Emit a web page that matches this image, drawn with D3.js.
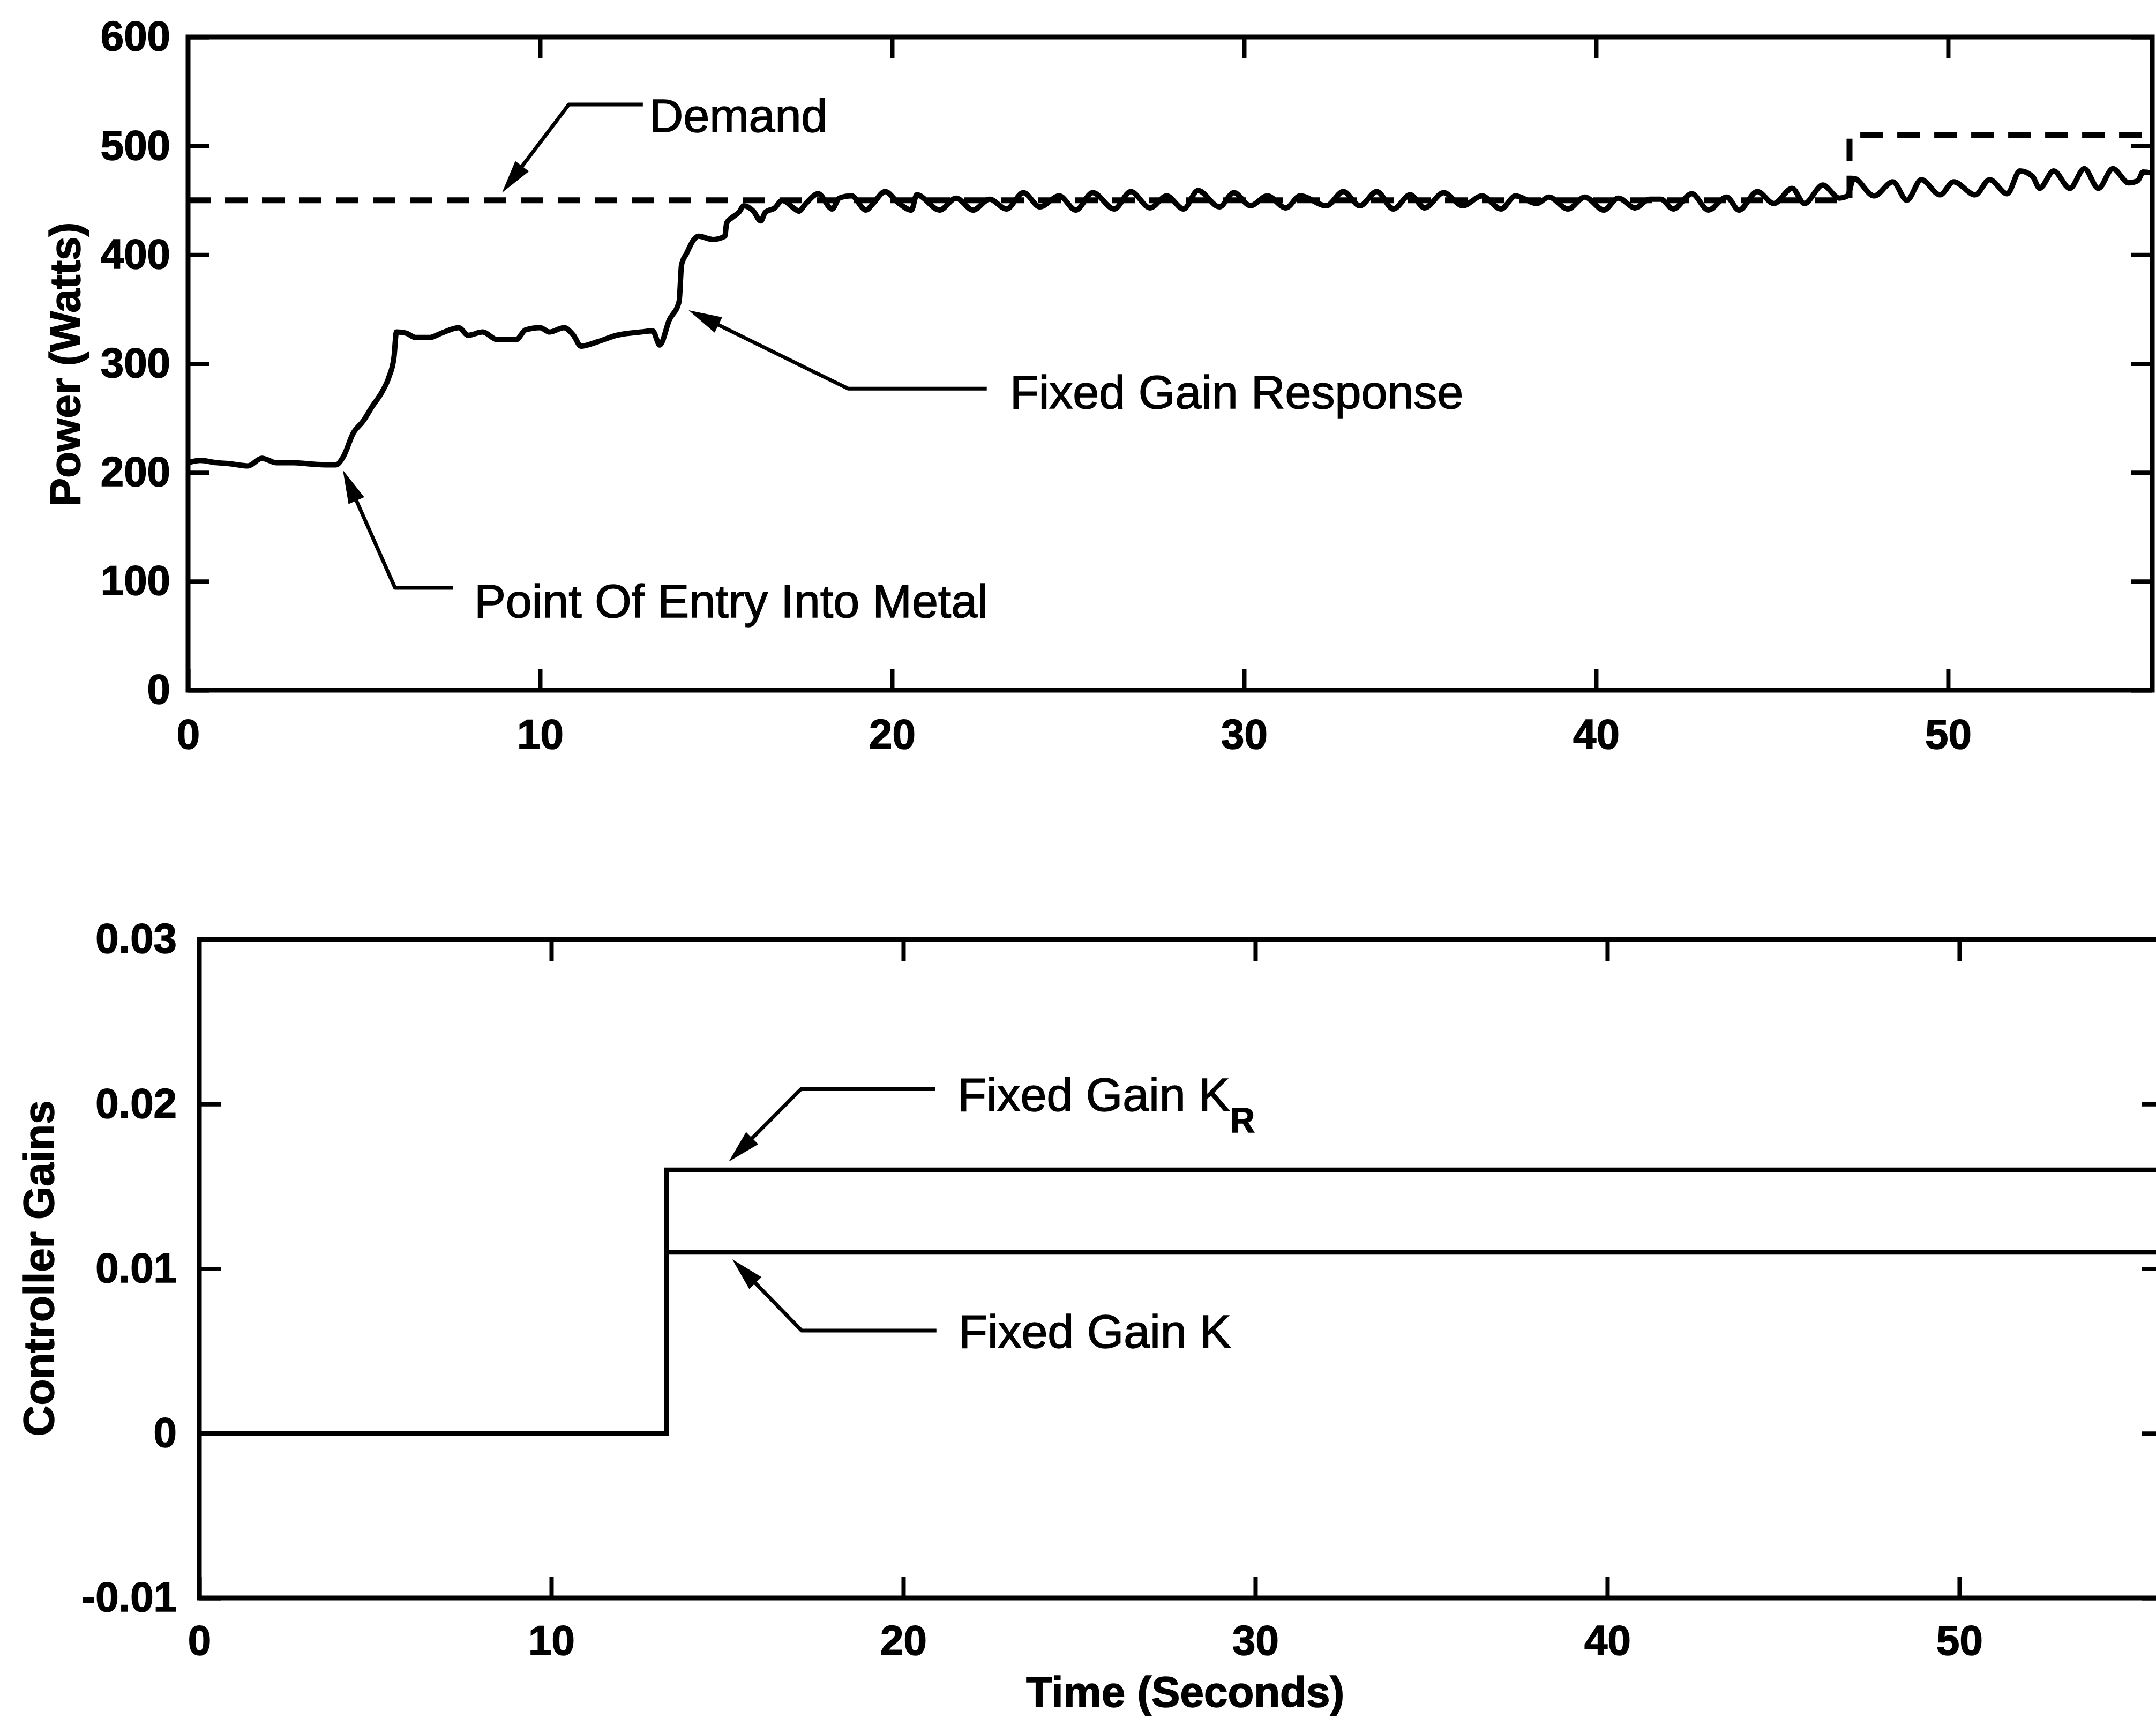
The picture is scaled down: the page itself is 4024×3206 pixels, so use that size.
<!DOCTYPE html>
<html>
<head>
<meta charset="utf-8">
<script src="https://cdn.jsdelivr.net/npm/d3@7"></script>
<style>
html, body { margin: 0; padding: 0; background: #fff; }
svg { display: block; background: #fff; }
text { font-family: "Liberation Sans", Arial, sans-serif; fill: #000; }
</style>
</head>
<body>
<svg id="chart" width="4024" height="3206"></svg>
<script>
// fixed gain response (Watts)
var responseTime = [0, 0.35, 0.8, 1.2, 1.7, 2.1, 2.5, 3.0, 3.4, 4.0, 4.2, 4.42, 4.69, 4.97, 5.24, 5.51, 5.71, 5.85, 5.92,
    6.19, 6.46, 6.87, 7.2, 7.69, 7.96, 8.37, 8.78, 9.32, 9.59, 10.0, 10.27, 10.68, 10.95, 11.16, 11.63, 12.18, 12.86, 13.2,
    13.4, 13.67, 13.95, 14.02, 14.16, 14.37, 14.5, 14.9, 15.25, 15.3, 15.45, 15.65, 15.79, 16.06, 16.27, 16.4, 16.67,
    16.88, 17.2, 17.35, 17.55, 17.9, 18.3, 18.5, 18.85, 19.26, 19.46, 19.8, 20.2, 20.55, 20.7, 21.35, 21.82, 22.3, 22.77,
    23.25, 23.73, 24.2, 24.75, 25.22, 25.7, 26.31, 26.78, 27.33, 27.8, 28.28, 28.69, 29.3, 29.71, 30.18, 30.66, 31.19,
    31.59, 32.34, 32.82, 33.29, 33.77, 34.24, 34.72, 35.13, 35.67, 36.21, 36.76, 37.3, 37.71, 38.32, 38.66, 39.2, 39.68,
    40.22, 40.63, 41.11, 41.52, 41.84, 42.19, 42.72, 43.19, 43.71, 44.06, 44.58, 45.05, 45.57, 45.92, 46.44, 46.91,
    47.14, 47.32, 47.9, 48.43, 48.83, 49.24, 49.77, 50.16, 50.77, 51.18, 51.68, 52.04, 52.4, 52.6, 53.0, 53.46, 53.87,
    54.27, 54.68, 55.13, 55.39, 55.54, 55.8]
var responsePower = [209, 211, 209, 208, 206, 213, 209, 209, 208, 207, 207, 215, 236, 247, 261, 274, 288, 306, 329,
    328, 324, 324, 328, 333, 326, 329, 322, 322, 331, 333, 329, 333, 326, 316, 320, 326, 329, 330,
    317, 340, 357, 391, 401, 414, 417, 414, 417, 429, 434, 439, 445, 440, 431, 439, 443,
    450, 443, 440, 447, 456, 442, 452, 454, 441, 447, 458, 447, 441, 455, 441, 452, 441, 451,
    442, 457, 444, 454, 441, 457, 442, 458, 443, 454, 442, 459, 444, 457, 445, 454, 443,
    454, 445, 458, 445, 458, 442, 455, 443, 457, 445, 454, 442, 454, 447, 453, 442, 453,
    441, 452, 443, 451, 451, 442, 456, 441, 453, 441, 458, 447, 461, 447, 464, 452,
    454, 470, 454, 467, 450, 469, 455, 467, 455, 469, 456, 477, 472, 461, 477, 461, 479,
    461, 479, 466, 468, 476, 475]

// demand (dashed), step at 47.2 s
var demandTime = [0, 47.2, 55.8]
var demandPower = [450, 510, 510]

// controller gains, step at 13.27 s
var gainTime = [0, 13.27, 55.8]
var gainKR = [0, 0.016, 0.016]
var gainK = [0, 0.011, 0.011]

var timeTicks = [0, 10, 20, 30, 40, 50]
var powerTicks = [0, 100, 200, 300, 400, 500, 600]
var gainTicks = [-0.01, 0, 0.01, 0.02, 0.03]
var gainTickLabels = ["-0.01", "0", "0.01", "0.02", "0.03"]

// annotation anchors in data units: arrow tip, elbow, end of leader, text start
var powerNotes = [
    { label: "Demand", tip: [8.92, 457], elbow: [10.82, 538], end: [12.92, 538], text: [13.1, 513] },
    { label: "Point Of Entry Into Metal", tip: [4.4, 202], elbow: [5.88, 94], end: [7.52, 94], text: [8.13, 67] },
    { label: "Fixed Gain Response", tip: [14.22, 349], elbow: [18.75, 277], end: [22.69, 277], text: [23.35, 259] }
]
var gainNotes = [
    { label: "Fixed Gain K", sub: "R", tip: [15.04, 0.0165], elbow: [17.09, 0.0209], end: [20.9, 0.0209], text: [21.54, 0.0196] },
    { label: "Fixed Gain K", sub: "", tip: [15.14, 0.01057], elbow: [17.11, 0.00624], end: [20.94, 0.00624], text: [21.57, 0.0052] }
]

var FONT = '"Liberation Sans", Arial, sans-serif'
var svg = d3.select("#chart")

var xTop = d3.scaleLinear().domain([0, 55.8]).range([351, 4017])
var yTop = d3.scaleLinear().domain([0, 600]).range([1288, 69])
var xBot = d3.scaleLinear().domain([0, 55.8]).range([372, 4038])
var yBot = d3.scaleLinear().domain([-0.01, 0.03]).range([2982, 1753])

function styleAxis(g) {
    g.select(".domain").remove()
    g.selectAll(".tick line").attr("stroke", "#000").attr("stroke-width", 8)
    g.selectAll(".tick text")
        .attr("font-family", FONT)
        .attr("font-size", 78)
        .attr("font-weight", "bold")
        .attr("fill", "#000")
        .attr("stroke", "#000")
        .attr("stroke-width", 1.5)
}

function drawFrame(x, y, xTickVals, yTickVals, xPad, yPad, yFormat) {
    var x0 = x.range()[0], x1 = x.range()[1]
    var y0 = y.range()[0], y1 = y.range()[1]

    svg.append("g").attr("transform", `translate(0,${y0})`)
        .call(d3.axisBottom(x).tickValues(xTickVals).tickSize(-40).tickPadding(xPad).tickFormat(d3.format("d")))
        .call(styleAxis)
    svg.append("g").attr("transform", `translate(0,${y1})`)
        .call(d3.axisTop(x).tickValues(xTickVals.slice(1)).tickSize(-40).tickFormat(""))
        .call(styleAxis)
    svg.append("g").attr("transform", `translate(${x0},0)`)
        .call(d3.axisLeft(y).tickValues(yTickVals).tickSize(-40).tickPadding(yPad).tickFormat(yFormat))
        .call(styleAxis)
    svg.append("g").attr("transform", `translate(${x1},0)`)
        .call(d3.axisRight(y).tickValues(yTickVals).tickSize(-40).tickFormat(""))
        .call(styleAxis)

    svg.append("rect")
        .attr("x", x0).attr("y", y1)
        .attr("width", x1 - x0).attr("height", y0 - y1)
        .attr("fill", "none").attr("stroke", "#000").attr("stroke-width", 9)
}

function drawNote(note, x, y) {
    var tip = [x(note.tip[0]), y(note.tip[1])]
    var elbow = [x(note.elbow[0]), y(note.elbow[1])]
    var end = [x(note.end[0]), y(note.end[1])]
    var ang = Math.atan2(tip[1] - elbow[1], tip[0] - elbow[0])
    var headLen = 62, headHalf = 16
    var base = [tip[0] - headLen * Math.cos(ang), tip[1] - headLen * Math.sin(ang)]

    svg.append("path")
        .attr("d", d3.line()([end, elbow, [base[0] + 10 * Math.cos(ang), base[1] + 10 * Math.sin(ang)]]))
        .attr("fill", "none").attr("stroke", "#000").attr("stroke-width", 7)
        .attr("stroke-linejoin", "round")

    var p1 = [base[0] + headHalf * Math.sin(ang), base[1] - headHalf * Math.cos(ang)]
    var p2 = [base[0] - headHalf * Math.sin(ang), base[1] + headHalf * Math.cos(ang)]
    svg.append("path")
        .attr("d", "M" + tip + "L" + p1 + "L" + p2 + "Z")
        .attr("fill", "#000")

    var t = svg.append("text")
        .attr("x", x(note.text[0])).attr("y", y(note.text[1]))
        .attr("font-size", 88)
        .attr("stroke", "#000").attr("stroke-width", 1.5)
    t.append("tspan").text(note.label)
    if (note.sub) {
        t.append("tspan").attr("dy", 40).attr("font-size", 64).attr("font-weight", "bold").text(note.sub)
    }
}

// ---------- top panel: power ----------
drawFrame(xTop, yTop, timeTicks, powerTicks, 54, 33, d3.format("d"))

var demandData = demandTime.map((t, i) => [t, demandPower[i]])
svg.append("path")
    .attr("d", d3.line().x(d => xTop(d[0])).y(d => yTop(d[1])).curve(d3.curveStepAfter)(demandData))
    .attr("fill", "none").attr("stroke", "#000").attr("stroke-width", 11)
    .attr("stroke-dasharray", "42,27")

var responseData = responseTime.map((t, i) => [t, responsePower[i]])
svg.append("path")
    .attr("d", d3.line().x(d => xTop(d[0])).y(d => yTop(d[1])).curve(d3.curveMonotoneX)(responseData))
    .attr("fill", "none").attr("stroke", "#000").attr("stroke-width", 10)
    .attr("stroke-linejoin", "round")

powerNotes.forEach(n => drawNote(n, xTop, yTop))

svg.append("text")
    .attr("transform", "translate(121,680) rotate(-90)")
    .attr("text-anchor", "middle").attr("dy", "0.35em")
    .attr("font-size", 80).attr("font-weight", "bold")
    .attr("stroke", "#000").attr("stroke-width", 1.5)
    .text("Power (Watts)")

// ---------- bottom panel: controller gains ----------
drawFrame(xBot, yBot, timeTicks, gainTicks, 51, 42, (d, i) => gainTickLabels[i])

var krData = gainTime.map((t, i) => [t, gainKR[i]])
var kData = gainTime.map((t, i) => [t, gainK[i]])
var gainLine = d3.line().x(d => xBot(d[0])).y(d => yBot(d[1])).curve(d3.curveStepAfter)
svg.append("path").attr("d", gainLine(kData))
    .attr("fill", "none").attr("stroke", "#000").attr("stroke-width", 9)
svg.append("path").attr("d", gainLine(krData))
    .attr("fill", "none").attr("stroke", "#000").attr("stroke-width", 9)

gainNotes.forEach(n => drawNote(n, xBot, yBot))

svg.append("text")
    .attr("transform", "translate(72,2367) rotate(-90)")
    .attr("text-anchor", "middle").attr("dy", "0.35em")
    .attr("font-size", 80).attr("font-weight", "bold")
    .attr("stroke", "#000").attr("stroke-width", 1.5)
    .text("Controller Gains")

svg.append("text")
    .attr("x", 2212).attr("y", 3185)
    .attr("text-anchor", "middle")
    .attr("font-size", 80).attr("font-weight", "bold")
    .attr("stroke", "#000").attr("stroke-width", 1.5)
    .text("Time (Seconds)")
</script>
</body>
</html>
